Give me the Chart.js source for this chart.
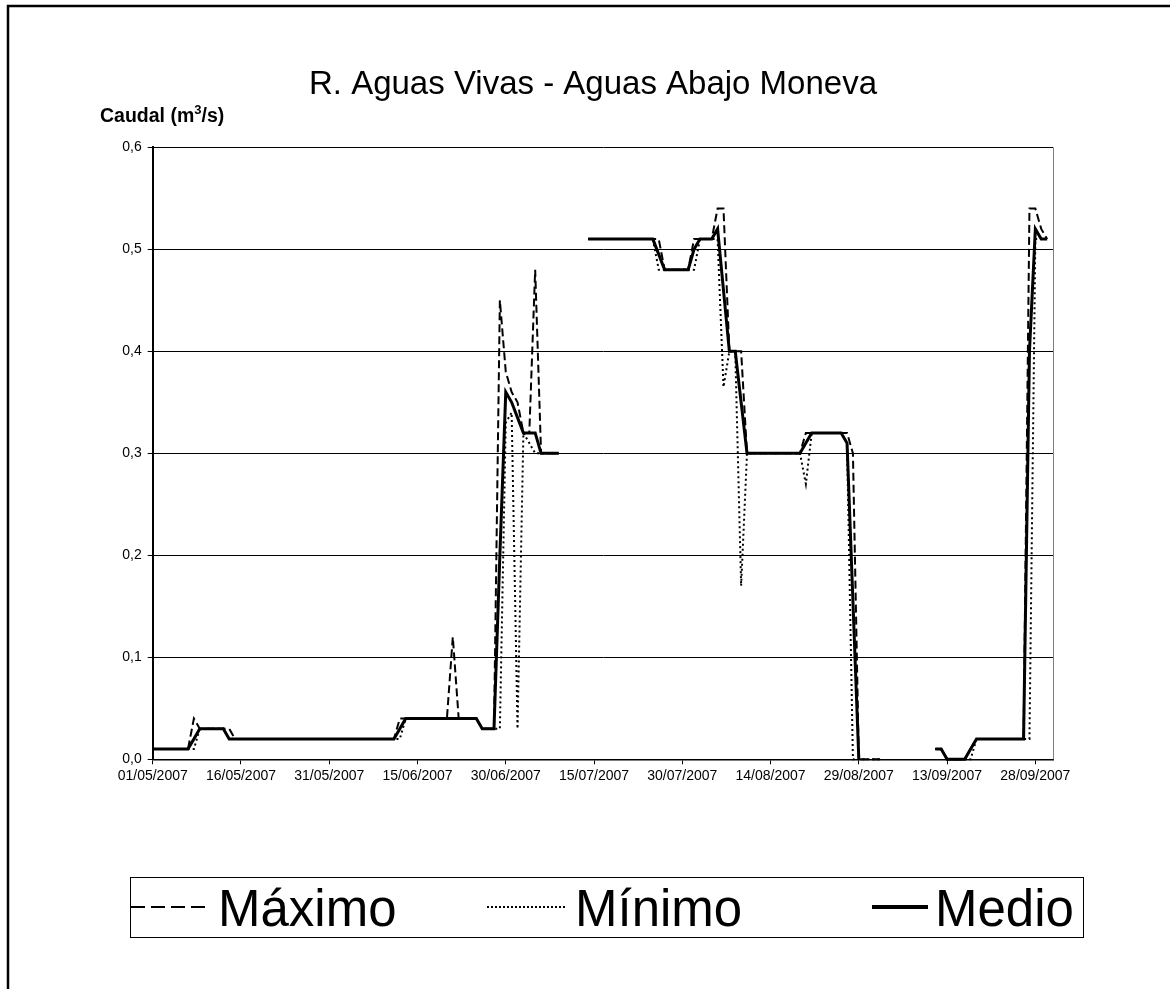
<!DOCTYPE html>
<html>
<head>
<meta charset="utf-8">
<script src="https://cdn.jsdelivr.net/npm/chart.js@4.4.0/dist/chart.umd.min.js"></script>
<style>html,body{margin:0;padding:0;background:#fff}canvas{display:block}</style>
</head>
<body>
<canvas id="c" width="1170" height="989"></canvas>
<script>
// ---- Texts ----
const titulo = 'R. Aguas Vivas - Aguas Abajo Moneva';
const ejeY = ['Caudal (m', '3', '/s)'];
const nombresSeries = ['Máximo', 'Mínimo', 'Medio'];

// ---- Categories: daily dates 01/05/2007 .. 30/09/2007 ----
const fechas = [];
for (let i = 0; i < 153; i++) {
  const d = new Date(2007, 4, 1 + i);
  fechas.push(String(d.getDate()).padStart(2, '0') + '/' + String(d.getMonth() + 1).padStart(2, '0') + '/' + d.getFullYear());
}

// ---- Tick labels ----
const xTickDias = [0, 15, 30, 45, 60, 75, 90, 105, 120, 135, 150];
const yTicks = [0, 0.1, 0.2, 0.3, 0.4, 0.5, 0.6];

// ---- Series values (m3/s), one per day ----
const maximo = [
  0.01,0.01,0.01,0.01,0.01,0.01,0.01,0.04,0.03,0.03,
  0.03,0.03,0.03,0.03,0.02,0.02,0.02,0.02,0.02,0.02,
  0.02,0.02,0.02,0.02,0.02,0.02,0.02,0.02,0.02,0.02,
  0.02,0.02,0.02,0.02,0.02,0.02,0.02,0.02,0.02,0.02,
  0.02,0.02,0.04,0.04,0.04,0.04,0.04,0.04,0.04,0.04,
  0.04,0.12,0.04,0.04,0.04,0.04,0.03,0.03,0.03,0.45,
  0.38,0.36,0.35,0.32,0.32,0.48,0.30,0.30,0.30,0.30,
  null,null,null,null,0.51,0.51,0.51,0.51,0.51,0.51,
  0.51,0.51,0.51,0.51,0.51,0.51,0.51,0.48,0.48,0.48,
  0.48,0.48,0.51,0.51,0.51,0.51,0.54,0.54,0.40,0.40,
  0.40,0.30,0.30,0.30,0.30,0.30,0.30,0.30,0.30,0.30,
  0.30,0.32,0.32,0.32,0.32,0.32,0.32,0.32,0.32,0.30,
  0.00,0.00,0.00,0.00,0.00,null,null,null,null,null,
  null,null,null,0.01,0.01,0.00,0.00,0.00,0.00,0.01,
  0.02,0.02,0.02,0.02,0.02,0.02,0.02,0.02,0.02,0.54,
  0.54,0.52,0.51
];
const minimo = [
  0.01,0.01,0.01,0.01,0.01,0.01,0.01,0.01,0.03,0.03,
  0.03,0.03,0.03,0.02,0.02,0.02,0.02,0.02,0.02,0.02,
  0.02,0.02,0.02,0.02,0.02,0.02,0.02,0.02,0.02,0.02,
  0.02,0.02,0.02,0.02,0.02,0.02,0.02,0.02,0.02,0.02,
  0.02,0.02,0.02,0.04,0.04,0.04,0.04,0.04,0.04,0.04,
  0.04,0.04,0.04,0.04,0.04,0.04,0.03,0.03,0.03,0.03,
  0.33,0.34,0.03,0.32,0.31,0.30,0.30,0.30,0.30,0.30,
  null,null,null,null,0.51,0.51,0.51,0.51,0.51,0.51,
  0.51,0.51,0.51,0.51,0.51,0.51,0.48,0.48,0.48,0.48,
  0.48,0.48,0.48,0.51,0.51,0.51,0.51,0.365,0.40,0.40,
  0.17,0.30,0.30,0.30,0.30,0.30,0.30,0.30,0.30,0.30,
  0.30,0.27,0.32,0.32,0.32,0.32,0.32,0.32,0.31,0.00,
  0.00,0.00,0.00,0.00,0.00,null,null,null,null,null,
  null,null,null,0.01,0.01,0.00,0.00,0.00,0.00,0.00,
  0.02,0.02,0.02,0.02,0.02,0.02,0.02,0.02,0.02,0.02,
  0.51,0.51,0.51
];
const medio = [
  0.01,0.01,0.01,0.01,0.01,0.01,0.01,0.02,0.03,0.03,
  0.03,0.03,0.03,0.02,0.02,0.02,0.02,0.02,0.02,0.02,
  0.02,0.02,0.02,0.02,0.02,0.02,0.02,0.02,0.02,0.02,
  0.02,0.02,0.02,0.02,0.02,0.02,0.02,0.02,0.02,0.02,
  0.02,0.02,0.03,0.04,0.04,0.04,0.04,0.04,0.04,0.04,
  0.04,0.04,0.04,0.04,0.04,0.04,0.03,0.03,0.03,0.20,
  0.36,0.35,0.335,0.32,0.32,0.32,0.30,0.30,0.30,0.30,
  null,null,null,null,0.51,0.51,0.51,0.51,0.51,0.51,
  0.51,0.51,0.51,0.51,0.51,0.51,0.495,0.48,0.48,0.48,
  0.48,0.48,0.50,0.51,0.51,0.51,0.52,0.46,0.40,0.40,
  0.35,0.30,0.30,0.30,0.30,0.30,0.30,0.30,0.30,0.30,
  0.30,0.31,0.32,0.32,0.32,0.32,0.32,0.32,0.31,0.155,
  0.00,null,null,null,null,null,null,null,null,null,
  null,null,null,0.01,0.01,0.00,0.00,0.00,0.00,0.01,
  0.02,0.02,0.02,0.02,0.02,0.02,0.02,0.02,0.02,0.40,
  0.52,0.51,0.51
];

const toXY = arr => arr.map((v, i) => ({ x: i, y: v }));
const FONT = '"Liberation Sans", Arial, sans-serif';

const decor = {
  id: 'decor',
  beforeDraw(chart) {
    const ctx = chart.ctx;
    ctx.save();
    ctx.fillStyle = '#fff';
    ctx.fillRect(0, 0, chart.width, chart.height);
    ctx.restore();
  },
  afterDraw(chart) {
    const ctx = chart.ctx, a = chart.chartArea;
    ctx.save();
    // plot area right border
    ctx.strokeStyle = '#808080'; ctx.lineWidth = 1;
    ctx.beginPath(); ctx.moveTo(a.right + 0.5, a.top); ctx.lineTo(a.right + 0.5, a.bottom); ctx.stroke();
    // outer frame
    ctx.strokeStyle = '#000'; ctx.lineWidth = 2.5;
    ctx.strokeRect(8, 6, 1400, 1400);
    // title
    ctx.fillStyle = '#000';
    ctx.textBaseline = 'alphabetic';
    ctx.textAlign = 'center';
    ctx.font = '33px ' + FONT;
    ctx.fillText(titulo, 593, 94);
    // y-axis caption
    ctx.textAlign = 'left';
    let x = 100; const yb = 122;
    ctx.font = 'bold 19.5px ' + FONT;
    ctx.fillText(ejeY[0], x, yb); x += ctx.measureText(ejeY[0]).width;
    ctx.font = 'bold 13px ' + FONT;
    ctx.fillText(ejeY[1], x, yb - 8); x += ctx.measureText(ejeY[1]).width;
    ctx.font = 'bold 19.5px ' + FONT;
    ctx.fillText(ejeY[2], x, yb);
    // legend box
    ctx.strokeStyle = '#000'; ctx.lineWidth = 1;
    ctx.strokeRect(130.5, 877.5, 953, 60);
    const items = [
      { x0: 131, x1: 210, tx: 218, dash: [14, 6], w: 2 },
      { x0: 487, x1: 567, tx: 575, dash: [2, 2], w: 2 },
      { x0: 872, x1: 928, tx: 935, dash: [], w: 4 }
    ];
    ctx.font = '51px ' + FONT;
    items.forEach((it, i) => {
      ctx.setLineDash(it.dash); ctx.lineWidth = it.w; ctx.strokeStyle = '#000';
      ctx.beginPath(); ctx.moveTo(it.x0, 907); ctx.lineTo(it.x1, 907); ctx.stroke();
      ctx.setLineDash([]);
      ctx.fillText(nombresSeries[i], it.tx, 926);
    });
    ctx.restore();
  }
};

new Chart(document.getElementById('c'), {
  type: 'line',
  data: {
    datasets: [
      { label: nombresSeries[2], data: toXY(medio), borderColor: '#000', borderWidth: 3, order: 0 },
      { label: nombresSeries[0], data: toXY(maximo), borderColor: '#000', borderWidth: 2, borderDash: [8, 4], order: 1 },
      { label: nombresSeries[1], data: toXY(minimo), borderColor: '#000', borderWidth: 2, borderDash: [2, 3], order: 2 }
    ]
  },
  options: {
    responsive: false,
    animation: false,
    spanGaps: false,
    elements: { point: { radius: 0, hoverRadius: 0 }, line: { tension: 0, fill: false, borderJoinStyle: 'miter' } },
    datasets: { line: { clip: false } },
    layout: { padding: { left: 102.7, top: 147.3, right: 117, bottom: 199.7 } },
    plugins: { legend: { display: false }, title: { display: false }, tooltip: { enabled: false } },
    scales: {
      x: {
        type: 'linear', min: 0, max: 153,
        afterFit: s => { s.height = 30; },
        afterBuildTicks: s => { s.ticks = xTickDias.map(v => ({ value: v })); },
        ticks: {
          autoSkip: false, maxRotation: 0, minRotation: 0, includeBounds: false, padding: 3,
          color: '#000', font: { family: FONT, size: 14 },
          callback: v => fechas[v]
        },
        grid: { drawOnChartArea: false, drawTicks: true, tickLength: 5, color: '#000', lineWidth: 1 },
        border: { display: true, color: '#000', width: 1.5 }
      },
      y: {
        type: 'linear', min: 0, max: 0.6,
        afterFit: s => { s.width = 50; },
        afterBuildTicks: s => { s.ticks = yTicks.map(v => ({ value: v })); },
        ticks: {
          padding: 6, color: '#000', font: { family: FONT, size: 14 },
          callback: v => v.toFixed(1).replace('.', ',')
        },
        grid: { drawTicks: true, tickLength: 5, color: '#000', lineWidth: 1 },
        border: { display: true, color: '#000', width: 2 }
      }
    }
  },
  plugins: [decor]
});
</script>
</body>
</html>
